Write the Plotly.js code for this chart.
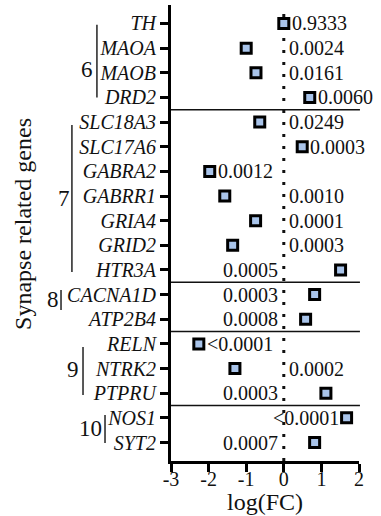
<!DOCTYPE html>
<html>
<head>
<meta charset="utf-8">
<script src="https://cdn.plot.ly/plotly-3.0.1.min.js"></script>
<style>html,body{margin:0;padding:0;background:#fff;}#chart{width:381px;height:516px;}</style>
</head>
<body>
<div id="chart"></div>
<script>
const genes = ['TH','MAOA','MAOB','DRD2','SLC18A3','SLC17A6','GABRA2','GABRR1','GRIA4','GRID2','HTR3A','CACNA1D','ATP2B4','RELN','NTRK2','PTPRU','NOS1','SYT2'];
const logFC = [0.0, -1.0, -0.74, 0.69, -0.64, 0.49, -1.97, -1.57, -0.75, -1.36, 1.51, 0.82, 0.58, -2.26, -1.30, 1.12, 1.67, 0.82];
const pValues = ['0.9333','0.0024','0.0161','0.0060','0.0249','0.0003','0.0012','0.0010','0.0001','0.0003','0.0005','0.0003','0.0008','<0.0001','0.0002','0.0003','<0.0001','0.0007'];
const labelSide = ['mr','zr','zr','mr','zr','mr','mr','zr','zr','zr','zl','zl','zl','mr','zr','zl','ml','zl'];
const groupNames = ['6','7','8','9','10'];
const groupFirst = ['TH','SLC18A3','CACNA1D','RELN','NOS1'];
const groupLast = ['DRD2','HTR3A','ATP2B4','PTPRU','SYT2'];
const xTicks = [-3,-2,-1,0,1,2];

const serifFamily = 'Liberation Serif, serif';
const idx = g => genes.indexOf(g);

const annotations = [];
const shapes = [];

for (let i = 0; i < genes.length; i++) {
  const s = labelSide[i];
  const a = {xref:'x', yref:'y', y: genes[i], text: pValues[i], showarrow:false,
    font:{family:serifFamily, size:20, color:'#111'}, yanchor:'middle'};
  if (s === 'mr') { a.x = logFC[i]; a.xanchor = 'left'; a.xshift = 6; }
  else if (s === 'ml') { a.x = logFC[i]; a.xanchor = 'right'; a.xshift = -6; }
  else if (s === 'zr') { a.x = 0; a.xanchor = 'left'; a.xshift = 3; }
  else { a.x = 0; a.xanchor = 'right'; a.xshift = -4; }
  annotations.push(a);
}

const barX = [-0.394, -0.527, -0.585, -0.468, -0.351];
const barTrim = [[0.05,0.0],[0.12,0.08],[-0.19,-0.38],[0.12,0.07],[-0.12,0.02]];
const numX = [-0.445, -0.57, -0.63, -0.52, -0.43];
const numY = [1.85, 7.08, 11.2, 14.05, 16.45];
for (let k = 0; k < groupNames.length; k++) {
  shapes.push({type:'line', xref:'paper', yref:'y', x0:barX[k], x1:barX[k],
    y0: idx(groupFirst[k]) + barTrim[k][0], y1: idx(groupLast[k]) + barTrim[k][1],
    line:{color:'#222', width:1.5}});
  annotations.push({xref:'paper', yref:'y', x:numX[k], y:numY[k], text:groupNames[k],
    showarrow:false, xanchor:'center', yanchor:'middle',
    font:{family:serifFamily, size:23, color:'#111'}});
}

for (let k = 0; k < groupLast.length - 1; k++) {
  const yy = idx(groupLast[k]) + 0.5;
  shapes.push({type:'line', xref:'paper', yref:'y', x0:0, x1:1.005, y0:yy, y1:yy,
    line:{color:'#111', width:1.5}});
}

shapes.push({type:'line', xref:'x', yref:'paper', x0:0, x1:0, y0:0, y1:0.995,
  line:{color:'#111', width:3, dash:'3px,9px'}, layer:'below'});

annotations.push({xref:'paper', yref:'paper', x:-0.787, y:0.52, text:'Synapse related genes',
  textangle:-90, showarrow:false, xanchor:'center', yanchor:'middle',
  font:{family:serifFamily, size:24, color:'#111'}});

annotations.push({xref:'paper', yref:'paper', x:0.5, y:-0.056, text:'log(FC)',
  showarrow:false, xanchor:'center', yanchor:'top',
  font:{family:serifFamily, size:24, color:'#111'}});

const trace = {
  type:'scatter', mode:'markers', x: logFC, y: genes,
  marker:{symbol:'square', size:10, color:'#a9c4ea', line:{color:'#000', width:3}},
  cliponaxis:false, hoverinfo:'skip'
};

const layout = {
  width:381, height:516,
  font:{family:serifFamily, size:20, color:'#111'},
  margin:{l:171, r:22, t:5, b:55},
  paper_bgcolor:'#fff', plot_bgcolor:'#fff',
  showlegend:false,
  xaxis:{range:[-3,2], tickmode:'array', tickvals:xTicks, ticktext:xTicks.map(String),
    showgrid:false, zeroline:false, showline:true, linecolor:'#000', linewidth:3,
    ticks:'outside', ticklen:8, tickwidth:3, tickcolor:'#000', ticklabelstandoff:-10,
    tickfont:{family:serifFamily, size:20, color:'#111'}},
  yaxis:{type:'category', categoryorder:'array', categoryarray:genes,
    range:[17.75, -0.75], showgrid:false, zeroline:false,
    showline:true, linecolor:'#000', linewidth:3,
    ticks:'outside', ticklen:8, tickwidth:3, tickcolor:'#000',
    tickfont:{family:serifFamily, size:20, color:'#111', style:'italic'}},
  annotations: annotations,
  shapes: shapes
};

Plotly.newPlot('chart', [trace], layout, {displayModeBar:false, staticPlot:true});
</script>
</body>
</html>
